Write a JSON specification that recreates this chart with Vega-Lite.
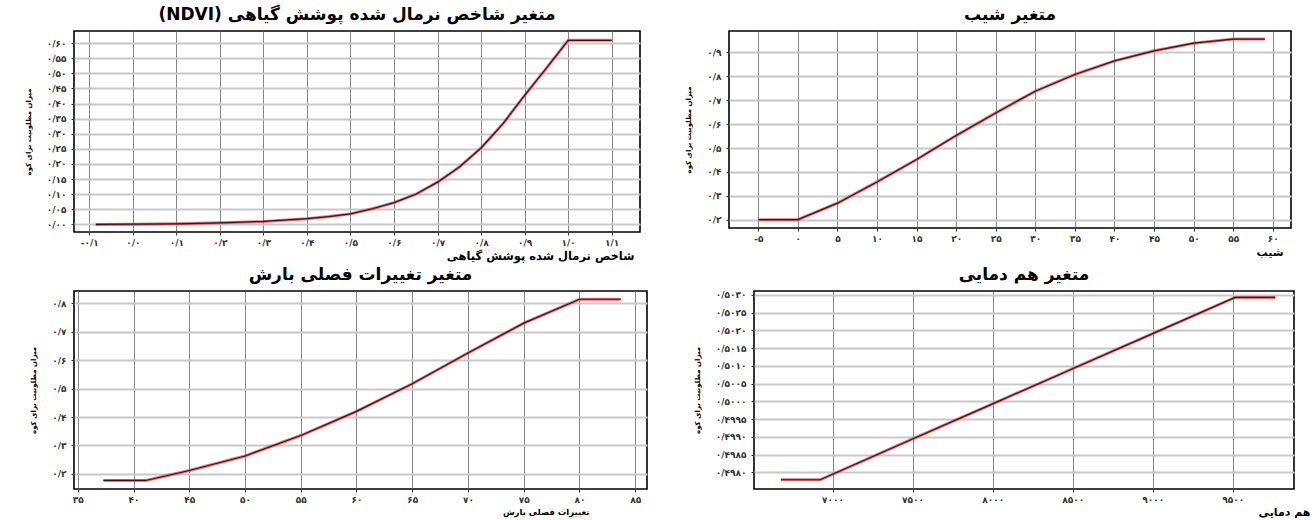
{
  "$schema": "https://vega.github.io/schema/vega-lite/v6.json",
  "padding": {"left": 23, "top": 5, "right": 2, "bottom": 0},
  "background": "white",
  "datasets": {
    "ndvi": [
      {"x": -0.085, "y": 0.0}, {"x": 0.0, "y": 0.001}, {"x": 0.1, "y": 0.002}, {"x": 0.2, "y": 0.0055},
      {"x": 0.3, "y": 0.01}, {"x": 0.4, "y": 0.019}, {"x": 0.45, "y": 0.026}, {"x": 0.5, "y": 0.035},
      {"x": 0.55, "y": 0.052}, {"x": 0.6, "y": 0.072}, {"x": 0.65, "y": 0.1}, {"x": 0.7, "y": 0.14},
      {"x": 0.75, "y": 0.19}, {"x": 0.8, "y": 0.253}, {"x": 0.85, "y": 0.333}, {"x": 0.9, "y": 0.427},
      {"x": 0.95, "y": 0.517}, {"x": 1.0, "y": 0.609}, {"x": 1.1, "y": 0.609}
    ],
    "slope": [
      {"x": -5, "y": 0.2}, {"x": 0, "y": 0.2}, {"x": 5, "y": 0.269}, {"x": 10, "y": 0.358},
      {"x": 15, "y": 0.452}, {"x": 20, "y": 0.552}, {"x": 25, "y": 0.647}, {"x": 30, "y": 0.738},
      {"x": 35, "y": 0.808}, {"x": 40, "y": 0.865}, {"x": 45, "y": 0.907}, {"x": 50, "y": 0.939},
      {"x": 55, "y": 0.956}, {"x": 59, "y": 0.956}
    ],
    "precip": [
      {"x": 37.3, "y": 0.177}, {"x": 41.1, "y": 0.177}, {"x": 45, "y": 0.212}, {"x": 50, "y": 0.263},
      {"x": 55, "y": 0.335}, {"x": 60, "y": 0.42}, {"x": 65, "y": 0.517}, {"x": 70, "y": 0.625},
      {"x": 75, "y": 0.73}, {"x": 80, "y": 0.814}, {"x": 83.7, "y": 0.814}
    ],
    "iso": [
      {"x": 6677, "y": 0.49779}, {"x": 6922, "y": 0.49779}, {"x": 7500, "y": 0.49894},
      {"x": 8000, "y": 0.49993}, {"x": 8500, "y": 0.50092}, {"x": 9000, "y": 0.50191},
      {"x": 9515, "y": 0.50293}, {"x": 9766, "y": 0.50293}
    ]
  },
  "vconcat": [
    {
      "hconcat": [
        {
          "title": "(NDVI) متغیر شاخص نرمال شده پوشش گیاهی",
          "width": 566, "height": 201,
          "data": {"name": "ndvi"},
          "encoding": {
            "x": {"field": "x", "type": "quantitative",
              "scale": {"domain": [-0.135, 1.165], "nice": false, "zero": false},
              "axis": {"values": [-0.1, 0, 0.1, 0.2, 0.3, 0.4, 0.5, 0.6, 0.7, 0.8, 0.9, 1.0, 1.1], "format": ".1f",
                "title": "شاخص نرمال شده پوشش گیاهی", "titleAnchor": "end", "titleX": 560, "titleFontSize": 11.5}},
            "y": {"field": "y", "type": "quantitative",
              "scale": {"domain": [-0.025, 0.64], "nice": false, "zero": false},
              "axis": {"values": [0, 0.05, 0.1, 0.15, 0.2, 0.25, 0.3, 0.35, 0.4, 0.45, 0.5, 0.55, 0.6], "format": ".2f",
                "title": "میزان مطلوبیت برای کوه"}}
          },
          "layer": [
            {"mark": {"type": "line", "color": "#e03c3c", "strokeWidth": 3, "opacity": 0.7}},
            {"mark": {"type": "line", "color": "#4a0c0c", "strokeWidth": 1.2}}
          ]
        },
        {
          "title": "متغیر شیب",
          "width": 562, "height": 197,
          "data": {"name": "slope"},
          "encoding": {
            "x": {"field": "x", "type": "quantitative",
              "scale": {"domain": [-8.7, 62.3], "nice": false, "zero": false},
              "axis": {"values": [-5, 0, 5, 10, 15, 20, 25, 30, 35, 40, 45, 50, 55, 60], "format": "d",
                "title": "شیب", "titleAnchor": "end", "titleX": 554, "titleFontSize": 11}},
            "y": {"field": "y", "type": "quantitative",
              "scale": {"domain": [0.165, 0.99], "nice": false, "zero": false},
              "axis": {"values": [0.2, 0.3, 0.4, 0.5, 0.6, 0.7, 0.8, 0.9], "format": ".1f",
                "title": "میزان مطلوبیت برای کوه"}}
          },
          "layer": [
            {"mark": {"type": "line", "color": "#e03c3c", "strokeWidth": 3, "opacity": 0.7}},
            {"mark": {"type": "line", "color": "#4a0c0c", "strokeWidth": 1.2}}
          ]
        }
      ],
      "spacing": 42
    },
    {
      "hconcat": [
        {
          "title": "متغیر تغییرات فصلی بارش",
          "width": 573, "height": 198,
          "data": {"name": "precip"},
          "encoding": {
            "x": {"field": "x", "type": "quantitative",
              "scale": {"domain": [34.66, 86.06], "nice": false, "zero": false},
              "axis": {"values": [35, 40, 45, 50, 55, 60, 65, 70, 75, 80, 85], "format": "d",
                "title": "تغییرات فصلی بارش", "titleAnchor": "end", "titleX": 515, "titleFontSize": 8.5}},
            "y": {"field": "y", "type": "quantitative",
              "scale": {"domain": [0.147, 0.843], "nice": false, "zero": false},
              "axis": {"values": [0.2, 0.3, 0.4, 0.5, 0.6, 0.7, 0.8], "format": ".1f",
                "title": "میزان مطلوبیت برای کوه"}}
          },
          "layer": [
            {"mark": {"type": "line", "color": "#e03c3c", "strokeWidth": 3, "opacity": 0.7}},
            {"mark": {"type": "line", "color": "#4a0c0c", "strokeWidth": 1.2}}
          ]
        },
        {
          "title": "متغیر هم دمایی",
          "width": 540, "height": 198,
          "data": {"name": "iso"},
          "encoding": {
            "x": {"field": "x", "type": "quantitative",
              "scale": {"domain": [6509, 9883], "nice": false, "zero": false},
              "axis": {"values": [7000, 7500, 8000, 8500, 9000, 9500], "format": "d",
                "title": "هم دمایی", "titleAnchor": "end", "titleX": 556, "titleFontSize": 11, "titlePadding": 2}},
            "y": {"field": "y", "type": "quantitative",
              "scale": {"domain": [0.49753, 0.50311], "nice": false, "zero": false},
              "axis": {"values": [0.498, 0.4985, 0.499, 0.4995, 0.5, 0.5005, 0.501, 0.5015, 0.502, 0.5025, 0.503], "format": ".4f",
                "title": "میزان مطلوبیت برای کوه"}}
          },
          "layer": [
            {"mark": {"type": "line", "color": "#e03c3c", "strokeWidth": 3, "opacity": 0.7}},
            {"mark": {"type": "line", "color": "#4a0c0c", "strokeWidth": 1.2}}
          ]
        }
      ],
      "spacing": 44
    }
  ],
  "spacing": 2,
  "config": {
    "font": "DejaVu Sans",
    "locale": {
      "number": {
        "decimal": "/", "thousands": "", "grouping": [3], "currency": ["", ""],
        "numerals": ["۰", "۱", "۲", "۳", "۴", "۵", "۶", "۷", "۸", "۹"], "minus": "-"
      }
    },
    "view": {"stroke": "#000", "strokeWidth": 1.6},
    "axis": {
      "domain": false, "labelFontSize": 9, "labelFontWeight": "bold", "labelColor": "#333", "tickColor": "#333", "tickSize": 3,
      "titleFontWeight": "bold", "titleColor": "#000", "titleFontSize": 7
    },
    "axisX": {"gridColor": "#666", "gridWidth": 0.8, "gridOpacity": 1, "labelPadding": 3, "titlePadding": 3},
    "axisY": {"gridColor": "#c8c8c8", "gridWidth": 2, "gridOpacity": 1, "labelPadding": 5, "titlePadding": 15},
    "title": {"fontSize": 17, "fontWeight": "bold", "offset": 7, "color": "#000"}
  }
}
